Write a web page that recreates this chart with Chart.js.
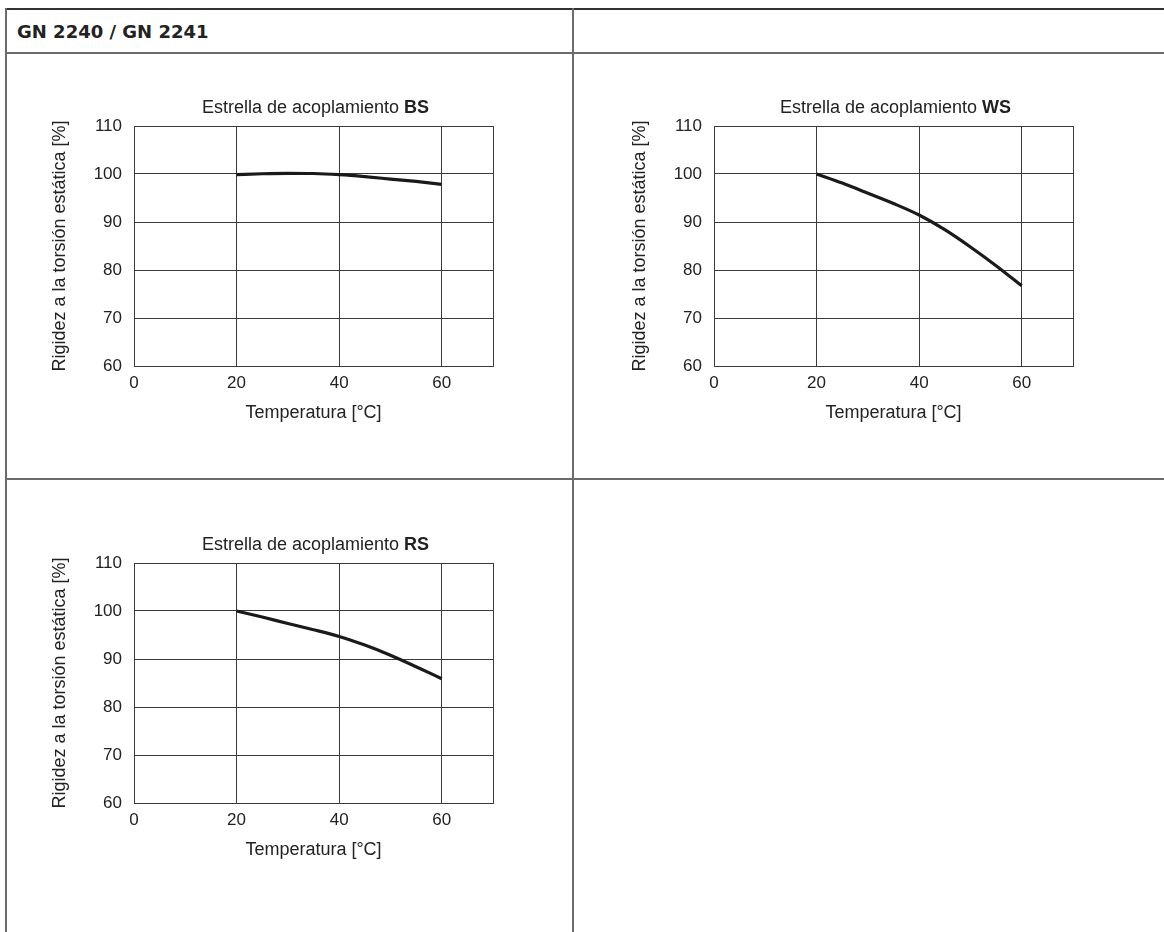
<!DOCTYPE html>
<html><head><meta charset="utf-8">
<script src="https://cdn.jsdelivr.net/npm/chart.js@4.4.1/dist/chart.umd.min.js"></script>
<style>
html,body{margin:0;padding:0;background:#fff;width:1164px;height:932px;overflow:hidden;position:relative}
.ln{position:absolute;background:#6b6b6b}
canvas{position:absolute}
#hdr{position:absolute;left:17px;top:23px;font:bold 18px/18px "DejaVu Sans",sans-serif;color:#222;white-space:nowrap}
</style></head><body>
<div class="ln" style="left:5px;top:8px;width:1159px;height:2px;background:#333"></div>
<div class="ln" style="left:5px;top:52px;width:1159px;height:2px"></div>
<div class="ln" style="left:5px;top:478px;width:1159px;height:2px"></div>
<div class="ln" style="left:5px;top:8px;width:2px;height:924px"></div>
<div class="ln" style="left:572px;top:8px;width:2px;height:924px"></div>
<div id="hdr">GN 2240 / GN 2241</div>
<canvas id="c0" width="480" height="336" style="left:40px;top:90px;width:480px;height:336px"></canvas>
<canvas id="c1" width="480" height="336" style="left:620px;top:90px;width:480px;height:336px"></canvas>
<canvas id="c2" width="480" height="336" style="left:40px;top:527px;width:480px;height:336px"></canvas>
<script>
const xTicks = [0, 20, 40, 60];
const xMax = 70;
const yTicks = [60, 70, 80, 90, 100, 110];
const temps = [20, 25, 30, 35, 40, 45, 50, 55, 60];
const bsValues = [99.85, 100.05, 100.15, 100.1, 99.85, 99.45, 98.95, 98.45, 97.85];
const wsValues = [100, 98.1, 96.0, 93.85, 91.45, 88.4, 84.8, 80.9, 76.7];
const rsValues = [100, 98.75, 97.4, 96.1, 94.7, 92.9, 90.8, 88.4, 85.9];
const titlePrefix = 'Estrella de acoplamiento ';
const starNames = ['BS', 'WS', 'RS'];
const xTitle = 'Temperatura [°C]';
const yTitle = 'Rigidez a la torsión estática [%]';

const FAMILY = '"Liberation Sans", Arial, Helvetica, sans-serif';
const TEXT = '#222';
const GRID = '#3a3a3a';
Chart.defaults.font.family = FAMILY;
Chart.defaults.color = TEXT;

const titlePlugin = {
  id: 'mixedTitle',
  afterDraw(chart, args, opts) {
    const {ctx, chartArea} = chart;
    ctx.save();
    const reg = '18px ' + FAMILY;
    const bold = 'bold 18px ' + FAMILY;
    ctx.font = reg; const w1 = ctx.measureText(opts.prefix).width;
    ctx.font = bold; const w2 = ctx.measureText(opts.name).width;
    const cx = (chartArea.left + chartArea.right) / 2 + 2;
    const x = cx - (w1 + w2) / 2;
    const y = chartArea.top - 13;
    ctx.fillStyle = TEXT; ctx.textBaseline = 'alphabetic'; ctx.textAlign = 'left';
    ctx.font = reg; ctx.fillText(opts.prefix, x, y);
    ctx.font = bold; ctx.fillText(opts.name, x + w1, y);
    ctx.restore();
  }
};

function makeChart(id, values, name) {
  return new Chart(document.getElementById(id), {
    type: 'line',
    data: {
      datasets: [{
        data: temps.map((t, i) => ({x: t, y: values[i]})),
        borderColor: '#1a1a1a',
        borderWidth: 3.2,
        pointRadius: 0,
        fill: false,
        cubicInterpolationMode: 'monotone'
      }]
    },
    options: {
      responsive: false,
      animation: false,
      devicePixelRatio: 1,
      layout: {padding: {left: 0, top: 36, right: 27, bottom: 0}},
      plugins: {
        legend: {display: false},
        tooltip: {enabled: false},
        mixedTitle: {prefix: titlePrefix, name: name}
      },
      scales: {
        x: {
          type: 'linear', min: 0, max: xMax,
          afterBuildTicks: ax => { ax.ticks = xTicks.concat([xMax]).map(v => ({value: v})); },
          afterFit: ax => { ax.height = 60; },
          ticks: {
            autoSkip: false, maxRotation: 0, padding: 7,
            font: {size: 17}, color: TEXT,
            callback: v => xTicks.includes(v) ? String(v) : ''
          },
          grid: {color: GRID, lineWidth: 1, drawTicks: false},
          border: {display: true, color: GRID, width: 1},
          title: {display: true, text: xTitle, font: {size: 18}, color: TEXT, padding: {top: 0, bottom: 2.2}}
        },
        y: {
          type: 'linear', min: yTicks[0], max: yTicks[yTicks.length - 1],
          afterBuildTicks: ax => { ax.ticks = yTicks.map(v => ({value: v})); },
          afterFit: ax => { ax.width = 94; },
          ticks: {
            autoSkip: false, padding: 12,
            font: {size: 17}, color: TEXT,
            callback: v => String(v)
          },
          grid: {color: GRID, lineWidth: 1, drawTicks: false},
          border: {display: true, color: GRID, width: 1},
          title: {display: true, text: yTitle, font: {size: 18}, color: TEXT, padding: {top: 9.2, bottom: 0}}
        }
      }
    },
    plugins: [titlePlugin]
  });
}

makeChart('c0', bsValues, starNames[0]);
makeChart('c1', wsValues, starNames[1]);
makeChart('c2', rsValues, starNames[2]);
</script>
</body></html>
